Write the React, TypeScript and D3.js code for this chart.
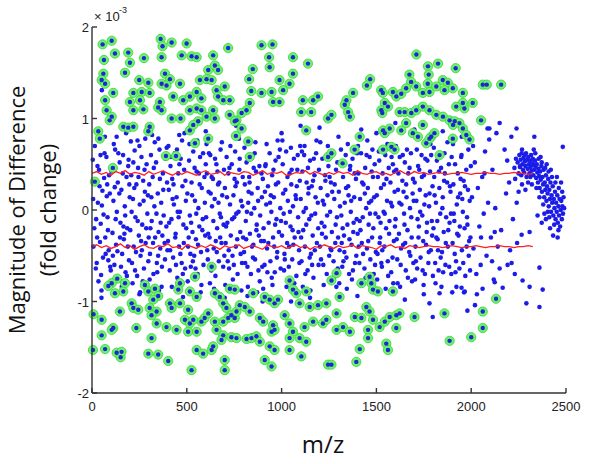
import React from "react";
import * as d3 from "d3";

// m/z values and magnitude (x 1e-3, stored as hundredths)
const xTicks = [0, 500, 1000, 1500, 2000, 2500];
const yTicks = [-2, -1, 0, 1, 2];

// Significant (green-ringed) points [m/z, magnitude*100]
const greenUpper: number[][] = [
  [56,181],[104,185],[121,171],[63,164],[191,172],[200,161],[174,150],[274,166],[362,187],[372,179],[420,183],[499,182],[367,167],[473,169],[525,168],[552,167],
  [60,149],[51,142],[69,138],[249,142],[297,139],[385,149],[411,143],[464,138],[367,138],[393,136],[569,142],[604,143],[613,153],[218,128],[262,129],[200,118],
  [253,120],[218,109],[271,110],[304,128],[69,120],[112,128],[77,109],[104,102],[358,118],[349,112],[367,109],[428,124],[481,120],[516,124],[552,129],[577,122],
  [516,109],[552,111],[577,109],[604,102],[560,97],[420,100],[467,100],[93,98],[33,86],[41,78],[165,91],[191,90],[218,91],[304,91],[297,86],[516,87],[534,93],
  [543,73],[613,78],[390,59],[443,59],[15,31],[110,46],
  [718,177],[894,180],[952,181],[639,169],[648,158],[665,153],[934,167],[937,156],[1060,167],[1139,160],[848,154],[829,143],[1060,149],[1042,138],[989,142],
  [631,142],[657,131],[700,135],[665,124],[692,120],[726,120],[840,130],[894,128],[947,129],[1008,131],[955,118],[989,118],[1112,120],[1166,120],[1192,124],
  [1103,107],[1156,107],[832,117],[815,109],[789,106],[762,98],[639,109],[648,100],[726,104],[753,97],[789,89],[759,81],[1130,87],[824,75],[832,58],[1245,100],[1245,58],
  [1711,170],[1772,157],[1825,160],[1918,155],[1674,148],[1683,140],[1776,148],[1771,138],[1850,142],[1877,139],[1467,143],[1450,136],[1525,131],[1534,128],
  [1587,129],[1605,124],[1631,127],[1657,133],[1710,135],[1745,128],[1780,129],[1816,135],[1859,131],[1903,133],[1956,128],[2008,117],[2061,137],[2082,137],
  [2158,137],[1377,128],[1342,120],[1333,115],[1351,107],[1360,102],[1263,104],[1544,117],[1526,109],[1561,113],[1531,106],[1622,107],[1649,107],[1684,106],
  [1710,109],[1745,113],[1780,109],[1816,104],[1851,102],[1886,98],[1904,93],[1913,97],[1938,95],[1964,111],[1956,117],[1921,113],[2052,98],[1535,87],[1544,84],
  [1570,89],[1631,87],[1657,95],[1692,84],[1745,93],[1789,80],[1806,84],[1719,80],[1956,89],[1974,82],[1991,77],[1903,78],[1412,80],[1385,66],[1535,66],
  [1579,69],[1596,66],[1763,73],[1780,78],[1263,62],[1322,51],[1833,60],
];
const greenLower: number[][] = [
  [133,-75],[104,-80],[86,-83],[165,-89],[121,-91],[174,-80],[209,-102],[218,-107],[244,-109],[279,-82],[297,-89],[332,-86],[349,-94],[323,-98],[304,-107],
  [341,-111],[411,-102],[420,-107],[464,-102],[464,-80],[455,-87],[516,-89],[543,-73],[552,-95],[507,-109],[490,-120],[516,-124],[552,-133],[577,-122],[594,-118],
  [613,-113],[534,-120],[507,-133],[51,-120],[147,-111],[112,-129],[104,-131],[51,-137],[234,-129],[314,-115],[341,-124],[393,-128],[446,-131],[314,-140],
  [5,-153],[69,-152],[130,-156],[151,-161],[156,-155],[297,-157],[349,-158],[402,-165],[552,-153],[586,-157],[525,-175],[8,-114],
  [631,-62],[648,-91],[674,-95],[692,-102],[727,-86],[753,-87],[709,-107],[735,-115],[753,-118],[762,-111],[718,-118],[692,-122],[648,-122],[779,-104],[806,-106],
  [832,-111],[850,-91],[911,-95],[937,-98],[963,-102],[981,-98],[1016,-115],[1042,-77],[1060,-87],[1077,-91],[1130,-89],[1095,-102],[1148,-106],[1192,-104],
  [1236,-102],[885,-118],[903,-122],[955,-126],[947,-133],[963,-131],[1042,-124],[1060,-133],[1042,-140],[1121,-128],[1166,-122],[1218,-124],[1236,-120],
  [657,-131],[692,-137],[683,-142],[735,-139],[762,-140],[815,-141],[841,-140],[867,-138],[885,-144],[937,-149],[963,-153],[1042,-153],[1095,-140],[1130,-144],
  [1104,-160],[700,-164],[700,-175],[911,-164],[947,-171],[1245,-169],[631,-153],[639,-149],
  [1290,-69],[1263,-77],[1306,-95],[1290,-113],[1290,-131],[1324,-128],[1360,-133],[1421,-80],[1464,-73],[1473,-80],[1482,-87],[1508,-89],[1587,-89],
  [1386,-117],[1421,-118],[1447,-106],[1464,-111],[1482,-120],[1517,-128],[1544,-122],[1570,-117],[1605,-115],[1622,-113],[1605,-129],[1456,-131],[1456,-140],
  [1552,-146],[1561,-153],[1412,-152],[1394,-166],[1701,-117],[1859,-113],[1886,-143],[2000,-139],[2061,-111],[2061,-129],[2131,-97],[1263,-169],
];

// Non-significant points [m/z, magnitude*100]
const blue0: number[][] = [
  [4,55],[12,-20],[18,32],[25,-58],[31,8],[37,44],[42,-35],[48,-71],[55,21],[61,-5],[66,62],[72,-48],[78,15],[84,-22],[90,38],[96,-62],[8,-40],[15,70],[22,-10],[29,48],
  [34,-78],[40,26],[46,-15],[52,5],[58,-52],[64,35],[70,-30],[76,58],[82,-8],[88,-44],[94,18],[99,-66],[6,12],[27,-30],[50,-88],[68,80],[86,-55],[45,60],[20,-64],[80,28],
  [103,42],[108,-25],[113,10],[118,-60],[122,66],[127,-38],[131,-2],[136,30],[141,-75],[146,52],[150,-14],[155,22],[159,-48],[164,60],[168,-32],[173,4],[177,-68],[182,36],
  [186,-20],[191,48],[195,-55],[199,14],[105,-82],[115,72],[125,-10],[134,-45],[144,18],[153,-62],[162,40],[171,-26],[180,84],[189,-40],[197,28],[110,-50],[139,62],
  [157,-84],[175,-6],[193,55],[120,25],[148,-30],[184,-72],[166,-18],
  [202,-22],[207,38],[211,-58],[216,12],[220,-40],[225,65],[229,-8],[234,28],[238,-72],[243,46],[247,-28],[252,6],[256,-50],[261,58],[265,-16],[270,32],[274,-64],
  [279,20],[283,-36],[288,50],[292,-4],[297,-56],[205,75],[214,-80],[223,24],[232,-46],[241,-12],[250,70],[259,-34],[268,-78],[277,44],[286,-20],[295,16],[209,-2],
  [227,-66],[245,36],[263,-44],[281,78],[299,-30],[218,52],[254,-90],[272,10],
  [302,28],[306,-48],[311,60],[315,-12],[320,36],[324,-70],[329,4],[333,-30],[338,52],[342,-58],[347,18],[351,-24],[356,66],[360,-42],[365,8],[369,-62],[374,40],
  [378,-6],[383,-36],[387,56],[392,-18],[396,30],[304,-76],[313,14],[322,-36],[331,74],[340,-4],[349,-50],[358,34],[367,-84],[376,22],[385,-54],[394,68],[308,-20],
  [326,46],[344,-68],[362,-14],[380,58],[398,-44],[317,82],[353,-88],[371,-28],
  [401,-34],[405,22],[410,-66],[414,48],[419,-10],[423,34],[428,-52],[432,6],[437,62],[441,-26],[446,14],[450,-74],[455,40],[459,-40],[464,-2],[468,56],[473,-58],
  [477,26],[482,-16],[486,44],[491,-64],[495,10],[403,70],[412,-44],[421,-84],[430,28],[439,-30],[448,66],[457,-8],[466,-48],[475,76],[484,-36],[493,32],[407,-14],
  [425,12],[443,-60],[461,50],[479,-70],[497,-20],[416,58],[452,-2],[488,84],
];
const blue500: number[][] = [
  [503,18],[507,-40],[512,54],[516,-6],[521,-62],[525,30],[530,-24],[534,64],[539,-50],[543,10],[548,-32],[552,42],[557,-70],[561,2],[566,-18],[570,58],[575,-46],
  [579,24],[584,-10],[588,-60],[593,36],[597,-28],[505,-78],[514,72],[523,-14],[532,-56],[541,46],[550,-4],[559,-38],[568,28],[577,-82],[586,62],[595,8],[510,-30],
  [528,16],[546,-64],[564,40],[582,-22],[600,50],[519,-48],[555,76],[573,-90],
  [602,-8],[606,40],[611,-54],[615,20],[620,-30],[624,60],[629,-66],[633,4],[638,34],[642,-42],[647,12],[651,-72],[656,50],[660,-20],[665,28],[669,-56],[674,-4],
  [678,66],[683,-36],[687,16],[692,-62],[696,44],[604,72],[613,-26],[622,-80],[631,36],[640,-12],[649,56],[658,-46],[667,8],[676,-30],[685,74],[694,-16],[608,-44],
  [626,18],[644,-86],[662,42],[680,-8],[698,-50],[617,62],[653,-34],[671,30],
  [701,24],[705,-36],[710,58],[714,-14],[719,40],[723,-64],[728,6],[732,-28],[737,50],[741,-50],[746,16],[750,-8],[755,64],[759,-40],[764,30],[768,-70],[773,-2],
  [777,44],[782,-24],[786,10],[791,-58],[795,36],[703,-82],[712,14],[721,-44],[730,70],[739,-10],[748,-60],[757,26],[766,-32],[775,78],[784,-48],[793,4],[707,-18],
  [725,46],[743,-76],[761,-4],[779,56],[797,-30],[716,-56],[752,34],[788,-88],
  [802,-46],[806,28],[811,-12],[815,52],[820,-62],[824,8],[829,36],[833,-26],[838,-70],[842,18],[847,60],[851,-38],[856,2],[860,-54],[865,42],[869,-16],[874,24],
  [878,-66],[883,48],[887,-6],[892,-34],[896,14],[804,68],[813,-32],[822,-84],[831,30],[840,-4],[849,-52],[858,62],[867,-22],[876,10],[885,-78],[894,40],[808,-58],
  [826,20],[844,-40],[862,74],[880,-28],[898,-62],[817,-2],[853,46],[871,-90],
  [901,34],[905,-20],[910,-60],[914,48],[919,6],[923,-42],[928,26],[932,-14],[937,62],[941,-56],[946,-2],[950,38],[955,-30],[959,14],[964,-68],[968,54],[973,-10],
  [977,-46],[982,30],[986,-24],[991,66],[995,-64],[903,-86],[912,20],[921,72],[930,-36],[939,8],[948,-74],[957,44],[966,-16],[975,-52],[984,58],[993,2],[907,-34],
  [925,-68],[943,16],[961,-40],[979,76],[997,-12],[916,50],[952,-82],[970,28],
];
const blue1000: number[][] = [
  [1002,-28],[1006,50],[1011,-4],[1015,-48],[1020,22],[1024,64],[1029,-36],[1033,10],[1038,-62],[1042,40],[1047,-18],[1051,28],[1056,-54],[1060,4],[1065,56],
  [1069,-30],[1074,16],[1078,-72],[1083,44],[1087,-8],[1092,-44],[1096,32],[1004,76],[1013,-66],[1022,-14],[1031,36],[1040,-40],[1049,68],[1058,-22],[1067,-80],
  [1076,12],[1085,60],[1094,-58],[1008,18],[1026,-84],[1044,-2],[1062,-38],[1080,26],[1098,70],[1017,-54],[1053,44],[1089,-24],
  [1101,12],[1105,-56],[1110,42],[1114,-22],[1119,60],[1123,-40],[1128,2],[1132,30],[1137,-66],[1141,18],[1146,-10],[1150,54],[1155,-48],[1159,26],[1164,-28],
  [1168,-74],[1173,38],[1177,-4],[1182,62],[1186,-36],[1191,8],[1195,-60],[1103,-30],[1112,-84],[1121,70],[1130,-16],[1139,46],[1148,-52],[1157,-6],[1166,32],
  [1175,-44],[1184,76],[1193,-20],[1107,64],[1125,-70],[1143,24],[1161,-60],[1179,14],[1197,44],[1116,-2],[1152,-88],[1170,56],
  [1202,-40],[1206,24],[1211,-14],[1215,56],[1220,-60],[1224,6],[1229,38],[1233,-30],[1238,-70],[1242,16],[1247,48],[1251,-50],[1256,-2],[1260,30],[1265,-24],
  [1269,64],[1274,-56],[1278,12],[1283,-36],[1287,44],[1292,-8],[1296,-64],[1204,74],[1213,-26],[1222,-82],[1231,32],[1240,-6],[1249,60],[1258,-42],[1267,20],
  [1276,-74],[1285,-16],[1294,52],[1208,-54],[1226,-18],[1244,70],[1262,-44],[1280,28],[1298,-30],[1217,10],[1253,36],[1289,-84],
  [1302,20],[1306,-44],[1311,52],[1315,-6],[1320,-62],[1324,36],[1329,-28],[1333,8],[1338,60],[1342,-52],[1347,-16],[1351,26],[1356,-70],[1360,44],[1365,-2],
  [1369,-38],[1374,56],[1378,-24],[1383,14],[1387,-58],[1392,34],[1396,-10],[1304,-80],[1313,66],[1322,-20],[1331,-46],[1340,24],[1349,72],[1358,-32],[1367,10],
  [1376,-66],[1385,40],[1394,-50],[1308,4],[1326,-56],[1344,-86],[1362,48],[1380,-14],[1398,62],[1317,-36],[1353,16],[1371,-76],
  [1401,-26],[1405,40],[1410,-58],[1414,12],[1419,62],[1423,-36],[1428,-8],[1432,28],[1437,-64],[1441,46],[1446,2],[1450,-42],[1455,24],[1459,-16],[1464,58],
  [1468,-54],[1473,10],[1477,-30],[1482,36],[1486,-70],[1491,50],[1495,-4],[1403,70],[1412,-12],[1421,-82],[1430,-48],[1439,18],[1448,60],[1457,-34],[1466,-4],
  [1475,42],[1484,-20],[1493,-60],[1407,-40],[1425,30],[1443,-74],[1461,8],[1479,66],[1497,-46],[1416,-22],[1452,76],[1488,14],
];
const blue1500: number[][] = [
  [1502,16],[1506,-48],[1511,-8],[1515,54],[1520,-30],[1524,24],[1529,-62],[1533,40],[1538,-2],[1542,-40],[1547,60],[1551,-20],[1556,10],[1560,-56],[1565,46],
  [1569,-12],[1574,30],[1578,-68],[1583,4],[1587,50],[1592,-34],[1596,20],[1504,-76],[1513,64],[1522,-14],[1531,-44],[1540,28],[1549,-86],[1558,72],[1567,-26],
  [1576,8],[1585,-52],[1594,42],[1508,36],[1526,-58],[1544,-4],[1562,-72],[1580,58],[1598,-18],[1517,-36],[1553,34],[1589,-80],
  [1601,-10],[1605,44],[1610,-54],[1614,22],[1619,-26],[1623,58],[1628,-60],[1632,6],[1637,32],[1641,-38],[1646,-4],[1650,52],[1655,-66],[1659,14],[1664,-22],
  [1668,40],[1673,-46],[1677,2],[1682,62],[1686,-30],[1691,18],[1695,-58],[1603,70],[1612,-80],[1621,8],[1630,-42],[1639,60],[1648,-16],[1657,28],[1666,-74],
  [1675,46],[1684,-8],[1693,34],[1607,-32],[1625,-84],[1643,20],[1661,66],[1679,-50],[1697,10],[1616,40],[1652,-36],[1688,-78],
  [1702,30],[1706,-40],[1711,10],[1715,-64],[1720,48],[1724,-18],[1729,22],[1733,-52],[1738,60],[1742,-6],[1747,-34],[1751,38],[1756,-70],[1760,16],[1765,-24],
  [1769,54],[1774,-58],[1778,4],[1783,42],[1787,-44],[1792,-12],[1796,26],[1704,-76],[1713,66],[1722,-30],[1731,-2],[1740,36],[1749,-82],[1758,56],[1767,-14],
  [1776,-46],[1785,72],[1794,-28],[1708,-56],[1726,44],[1744,-66],[1762,-38],[1780,18],[1798,-72],[1717,-10],[1753,6],[1789,60],
  [1801,-20],[1805,36],[1810,-58],[1814,8],[1819,54],[1823,-32],[1828,-66],[1832,24],[1837,-4],[1841,46],[1846,-46],[1850,14],[1855,-24],[1859,62],[1864,-60],
  [1868,-8],[1873,30],[1877,-40],[1882,50],[1886,-14],[1891,20],[1895,-70],[1803,68],[1812,-80],[1821,-12],[1830,42],[1839,-52],[1848,2],[1857,32],[1866,-36],
  [1875,74],[1884,-62],[1893,-4],[1807,16],[1825,-44],[1843,-84],[1861,40],[1879,-22],[1897,58],[1816,-30],[1852,-68],[1888,26],
  [1902,-36],[1906,28],[1911,-12],[1915,50],[1920,-56],[1924,6],[1929,40],[1933,-28],[1938,-64],[1942,18],[1947,58],[1951,-44],[1956,-2],[1960,32],[1965,-20],
  [1969,-72],[1974,44],[1978,-8],[1983,22],[1987,-50],[1992,10],[1996,-30],[1904,72],[1913,-48],[1922,-84],[1931,14],[1940,-18],[1949,60],[1958,-58],[1967,26],
  [1976,-40],[1985,66],[1994,-66],[1908,-4],[1926,-26],[1944,34],[1962,-90],[1980,-16],[1998,48],[1917,-68],[1953,12],[1989,-34],
];
const blue2000: number[][] = [
  [2004,14],[2012,-42],[2019,52],[2027,-70],[2035,24],[2043,-18],[2050,-60],[2058,36],[2066,-4],[2073,64],[2081,-50],[2089,8],[2096,89],[2104,-30],[2112,44],
  [2119,-76],[2127,2],[2133,84],[2140,-40],[2150,95],[2158,-22],[2166,-85],[2176,66],[2184,18],[2192,-60],[2200,30],[2212,80],[2213,-58],[2220,-10],[2228,46],
  [2239,89],[2242,-36],[2124,-24],[2124,-79],[2086,89],[2095,77],[2060,-86],[2030,-92],[2150,-64],[2205,-44],[2240,8],[2070,40],[2010,70],[2110,-56],[2190,54],
  [2230,-70],[2052,-30],[2333,80],[2266,-27],[2308,-24],[2271,-77],[2291,-102],[2308,-84],[2360,-63],[2377,-87],[2360,-106],[2483,69],[2330,66],[2268,66],
];
// dense cluster at the high-m/z end
const blueCluster: number[][] = [
  [2245,52],[2250,40],[2254,60],[2257,47],[2261,55],[2264,38],[2266,62],[2270,50],[2273,44],[2276,57],[2279,41],[2283,53],[2286,48],[2289,62],[2292,36],
  [2295,55],[2298,45],[2301,58],[2304,50],[2307,40],[2310,54],[2313,47],[2316,60],[2319,43],[2322,51],[2325,56],[2328,38],[2331,49],[2334,44],[2337,54],
  [2340,47],[2343,35],[2346,50],[2349,41],[2352,30],[2355,45],[2358,37],[2361,24],[2364,42],[2367,33],[2370,48],[2373,20],[2376,36],[2379,28],[2382,44],
  [2385,14],[2388,30],[2391,22],[2394,38],[2397,10],[2400,26],[2403,18],[2406,34],[2409,4],[2412,22],[2415,12],[2418,30],[2421,-2],[2424,16],[2427,8],
  [2430,26],[2433,-6],[2436,12],[2439,2],[2442,20],[2445,-10],[2448,8],[2451,-2],[2454,16],[2457,-14],[2460,4],[2463,-6],[2466,12],[2469,-18],[2472,0],
  [2475,10],[2478,-10],[2481,4],[2484,-4],[2487,14],[2490,2],
  [2300,30],[2320,28],[2338,62],[2356,56],[2372,52],[2390,46],[2408,42],[2426,36],[2444,30],[2462,24],[2480,20],[2350,-6],[2372,-14],[2394,-10],[2416,-20],
  [2438,-16],[2460,-22],[2268,28],[2286,22],[2250,20],[2232,34],[2236,56],[2360,14],[2380,6],[2404,-2],[2258,48],[2282,60],[2312,36],[2344,24],[2366,58],
  [2398,50],[2420,44],[2452,36],[2474,30],[2432,-28],[2456,-30],[2412,-8],[2386,-4],
];
const blueOuter: number[][] = [
  [52,131],[130,80],[240,76],[350,78],[460,82],[600,86],[760,92],[1000,84],[1100,92],[1300,80],[1420,88],[1600,95],[1700,88],[1850,86],[1950,80],
  [50,-96],[250,-92],[480,-95],[700,-96],[900,-100],[1150,-96],[1400,-94],[1650,-98],[1750,-92],[1900,-90],[1980,-110],[2020,-104],
  [1780,-102],[1797,-117],[1833,-91],[1949,-85],[1966,-89],[1200,90],[1500,84],[820,-94],[1050,-100],
];

// Threshold lines (magnitude*100), sampled every 25 m/z from 0
const redStep = 25;
const redUpper = [
  40,42,39,41,38,42,40,43,39,41,40,38,42,39,41,43,40,38,41,39,42,40,38,41,43,39,40,42,38,41,40,39,42,41,38,40,43,39,41,40,
  42,38,39,41,40,43,39,42,40,38,41,39,42,40,41,38,43,40,39,41,42,39,40,38,41,43,40,39,42,40,41,39,40,41,40,39,40,40,41,40,
  39,40,40,41,40,40,39,40,40,41,40,40,39,40,
];
const redLower = [
  -40,-38,-41,-39,-42,-40,-37,-41,-39,-43,-40,-38,-41,-42,-39,-40,-37,-41,-40,-43,-38,-40,-42,-39,-41,-38,-40,-43,-39,-41,
  -40,-38,-42,-40,-39,-41,-43,-38,-40,-41,-39,-42,-40,-38,-41,-39,-43,-40,-41,-38,-40,-42,-39,-41,-40,-38,-42,-39,-40,-41,
  -43,-39,-40,-38,-41,-40,-42,-39,-40,-41,-40,-39,-40,-40,-41,-40,-39,-40,-41,-40,-40,-39,-40,-41,-40,-40,-39,-40,-40,-41,
  -40,-40,-39,-40,
];

const W = 600;
const H = 464;

export default function App() {
  const x = d3.scaleLinear().domain([0, 2500]).range([92, 566]);
  const y = d3.scaleLinear().domain([-2, 2]).range([393, 27]);
  const blue = [...blue0, ...blue500, ...blue1000, ...blue1500, ...blue2000, ...blueCluster, ...blueOuter];
  const green = [...greenUpper, ...greenLower];
  const line = d3
    .line<number>()
    .x((_, i) => x(i * redStep))
    .y((v) => y(v / 100));
  const tickFont = "'Liberation Sans Narrow', 'Arial Narrow', 'Liberation Sans', sans-serif";
  const labelFont = "'Open Sans', 'Noto Sans', sans-serif";
  return (
    <svg
      width={W}
      height={H}
      style={{ position: "absolute", left: 0, top: 0, background: "#fff" }}
    >
      <g>
        {blue.map((d, i) => (
          <circle key={"b" + i} cx={x(d[0])} cy={y(d[1] / 100)} r={2.3} fill="#1c1ce8" />
        ))}
      </g>
      <g>
        {green.map((d, i) => (
          <circle
            key={"g" + i}
            cx={x(d[0])}
            cy={y(d[1] / 100)}
            r={4.6}
            fill="#72f072"
            stroke="#3fd83f"
            strokeWidth={0.9}
          />
        ))}
        {green.map((d, i) => (
          <circle key={"gc" + i} cx={x(d[0])} cy={y(d[1] / 100)} r={2.2} fill="#1a2ad0" />
        ))}
      </g>
      <path d={line(redUpper) || ""} fill="none" stroke="#ff1f1f" strokeWidth={1.3} />
      <path d={line(redLower) || ""} fill="none" stroke="#ff1f1f" strokeWidth={1.3} />
      <g stroke="#333" strokeWidth={1.4} fill="none">
        <line x1={x(0)} x2={x(0)} y1={y(2)} y2={y(-2)} />
        <line x1={x(0)} x2={x(2500)} y1={y(-2)} y2={y(-2)} />
        {xTicks.map((t) => (
          <line key={"xt" + t} x1={x(t)} x2={x(t)} y1={y(-2)} y2={y(-2) - 5} />
        ))}
        {yTicks.map((t) => (
          <line key={"yt" + t} x1={x(0)} x2={x(0) + 5} y1={y(t)} y2={y(t)} />
        ))}
      </g>
      <g fill="#222" fontFamily={tickFont} fontSize={13}>
        {xTicks.map((t) => (
          <text key={"xl" + t} x={x(t)} y={y(-2) + 18} textAnchor="middle">
            {t}
          </text>
        ))}
        {yTicks.map((t) => (
          <text key={"yl" + t} x={x(0) - 3} y={y(t) + 5} textAnchor="end">
            {t}
          </text>
        ))}
        <text x={94} y={21} fontSize={13}>
          × 10
        </text>
        <text x={119} y={13} fontSize={9}>
          -3
        </text>
      </g>
      <text x={323} y={453} textAnchor="middle" fontFamily={labelFont} fontSize={24} fill="#111">
        m/z
      </text>
      <text
        transform={`translate(25,${y(0)}) rotate(-90)`}
        textAnchor="middle"
        fontFamily={labelFont}
        fontSize={22}
        fill="#111"
      >
        Magnitude of Difference
      </text>
      <text
        transform={`translate(56,${y(0)}) rotate(-90)`}
        textAnchor="middle"
        fontFamily={labelFont}
        fontSize={22}
        fill="#111"
      >
        (fold change)
      </text>
    </svg>
  );
}
